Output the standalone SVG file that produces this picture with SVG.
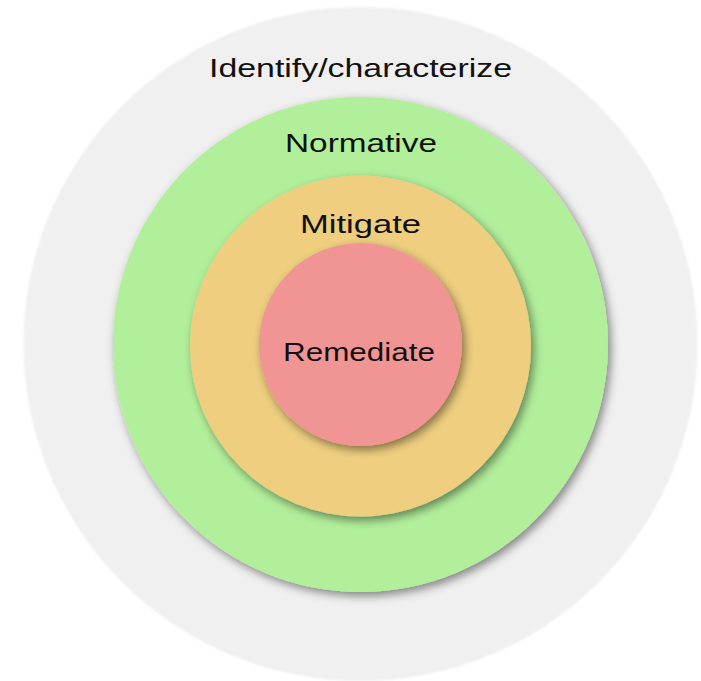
<svg xmlns="http://www.w3.org/2000/svg" width="701" height="681" viewBox="0 0 701 681">
  <defs>
    <filter id="shadow" x="-20%" y="-20%" width="140%" height="140%">
      <feDropShadow dx="3" dy="4" stdDeviation="5" flood-color="#000" flood-opacity="0.45"/>
    </filter>
    <filter id="soft" x="-5%" y="-5%" width="110%" height="110%">
      <feGaussianBlur stdDeviation="0.8"/>
    </filter>
  </defs>
  <style>
    .lbl { font-family: "Liberation Sans", "Open Sans", sans-serif; font-size: 26px; fill: #111; text-anchor: middle; }
  </style>
  <rect width="701" height="681" fill="#ffffff"/>
  <g id="identify">
    <circle cx="360.5" cy="344" r="337" fill="#f0f0f0" filter="url(#soft)"/>
    <text class="lbl" x="360.5" y="77" textLength="303" lengthAdjust="spacingAndGlyphs">Identify/characterize</text>
  </g>
  <g id="normative">
    <circle cx="360.5" cy="344.5" r="247.5" fill="#b2ef9b" filter="url(#shadow)"/>
    <text class="lbl" x="361" y="152" textLength="152" lengthAdjust="spacingAndGlyphs">Normative</text>
  </g>
  <g id="mitigate">
    <circle cx="360.5" cy="346" r="170.5" fill="#efcf7f" filter="url(#shadow)"/>
    <text class="lbl" x="360.5" y="233" textLength="121" lengthAdjust="spacingAndGlyphs">Mitigate</text>
  </g>
  <g id="remediate">
    <circle cx="360.5" cy="344.5" r="101.5" fill="#f19594" filter="url(#shadow)"/>
    <text class="lbl" x="359" y="361" textLength="152" lengthAdjust="spacingAndGlyphs">Remediate</text>
  </g>
  <g id="connectors"/>
</svg>
